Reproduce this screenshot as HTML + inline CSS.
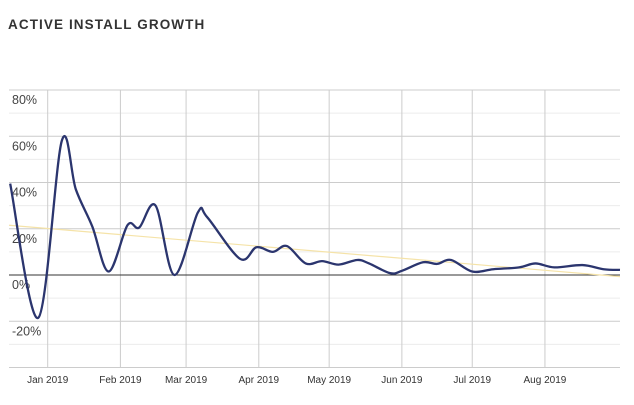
<!DOCTYPE html>
<html><head><meta charset="utf-8"><style>
body{margin:0;background:#fff;width:634px;height:405px;overflow:hidden;font-family:"Liberation Sans",sans-serif}
#title{position:absolute;left:8px;top:17px;font-size:13.5px;font-weight:bold;letter-spacing:1.1px;color:#333}
svg{position:absolute;left:0;top:0}
</style></head><body>
<div id="title">ACTIVE INSTALL GROWTH</div>
<svg id="c" width="634" height="405"></svg>
<script>
const yTicks=[80,60,40,20,0,-20];
const yTickLabels=["80%","60%","40%","20%","0%","-20%"];
const xTickDays=[0,31,59,90,120,151,181,212];
const xTickLabels=["Jan 2019","Feb 2019","Mar 2019","Apr 2019","May 2019","Jun 2019","Jul 2019","Aug 2019"];
const days=[-16,-4,6,12,19,26,34,39,46,54,64,68,82,89,96,102,110,117,124,132,137,146,151,160,166,172,181,190,201,208,216,228,237,244];
const growth=[39.5,-18.5,58,37,21,1.5,21.5,20.5,30,0,27,25,7,12,10,12.5,5,6,4.5,6.5,5,0.8,1.8,5.5,4.8,6.5,1.5,2.5,3.3,5,3.3,4.3,2.5,2.2];
const trendDays=[-16.5,244];
const trendVals=[21.5,-0.7];

const NS="http://www.w3.org/2000/svg";
const svg=document.getElementById('c');
const X0=9,X1=620,D0=-16.5,D1=244;
const x=d=>X0+(d-D0)*(X1-X0)/(D1-D0);
const y=v=>275-v*2.3125;
function mk(t,a){const e=document.createElementNS(NS,t);for(const k in a)e.setAttribute(k,a[k]);svg.appendChild(e);return e;}
// minor gridlines
for(let v=70;v>=-30;v-=20){
  const l=mk('line',{x1:X0,x2:X1,y1:y(v),y2:y(v),stroke:'#ececec','stroke-width':1});
  
  
}
// major gridlines
[80,60,40,20,-20,-40].forEach(v=>{
  const l=mk('line',{x1:X0,x2:X1,y1:y(v),y2:y(v),stroke:'#cccccc','stroke-width':1});
  
  
});
xTickDays.forEach((d,i)=>{
  const l=mk('line',{x1:x(d),x2:x(d),y1:y(80),y2:y(-40),stroke:'#cccccc','stroke-width':1});
  
  
  const t=mk('text',{x:x(d),y:383,'text-anchor':'middle','font-size':'10','fill':'#333'});
  t.textContent=xTickLabels[i];
  
  
});
yTicks.forEach((v,i)=>{
  const t=mk('text',{x:12,y:y(v)+14,'font-size':'12.5','fill':'#444'});
  t.textContent=yTickLabels[i];
  
  
});
const z=mk('line',{x1:X0,x2:X1,y1:y(0),y2:y(0),stroke:'#333','stroke-width':1});


const tr=mk('line',{x1:x(trendDays[0]),y1:y(trendVals[0]),x2:x(trendDays[1]),y2:y(trendVals[1]),stroke:'#f5e3a8','stroke-width':1.2});


// smooth curve (catmull-rom)
const P=days.map((d,i)=>[x(d),y(growth[i])]);
let dstr=`M${P[0][0]},${P[0][1]}`;
for(let i=0;i<P.length-1;i++){
  const p0=P[i-1]||P[i],p1=P[i],p2=P[i+1],p3=P[i+2]||p2;
  const c1=[p1[0]+(p2[0]-p0[0])/6,p1[1]+(p2[1]-p0[1])/6];
  const c2=[p2[0]-(p3[0]-p1[0])/6,p2[1]-(p3[1]-p1[1])/6];
  dstr+=` C${c1[0]},${c1[1]} ${c2[0]},${c2[1]} ${p2[0]},${p2[1]}`;
}
const s=mk('path',{d:dstr,fill:'none',stroke:'#2b356e','stroke-width':2.3,'stroke-linejoin':'round'});


</script>
</body></html>
